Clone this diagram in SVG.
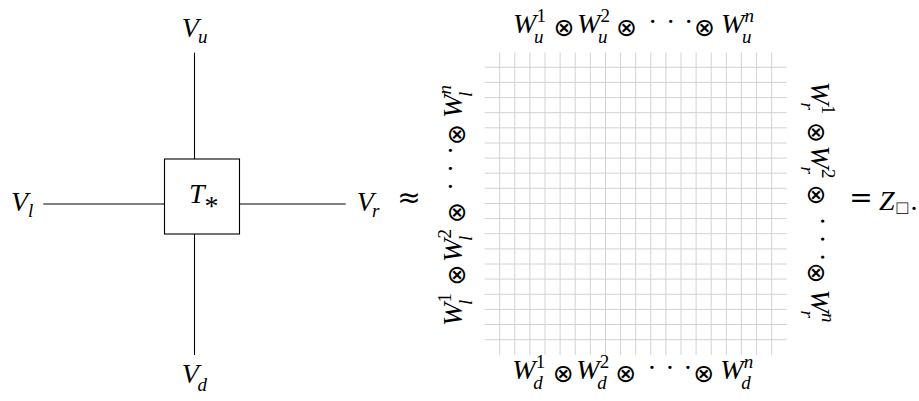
<svg xmlns="http://www.w3.org/2000/svg" width="919" height="401" viewBox="0 0 919 401">
  <style>
    .it { font-family: "Liberation Serif", serif; font-style: italic; font-size: 28px; fill: #000; }
    .sc { font-size: 19px; }
    .rm { font-style: normal; }
    .op { font-family: "DejaVu Sans", sans-serif; font-style: normal; text-anchor: middle; fill: #000; }
    .wire { stroke: #000; stroke-width: 1.1; fill: none; }
    .grid { stroke: #d2d2d2; stroke-width: 1; fill: none; }
  </style>
  <defs>
    <!-- shared operators of the tensor-product labels -->
    <g id="otimes-dots">
      <text class="op" x="51" y="3" font-size="25">⊗</text>
      <text class="op" x="113.5" y="3" font-size="25">⊗</text>
      <text class="it rm" x="135 153 171" y="-2">···</text>
      <text class="op" x="191.5" y="3" font-size="25">⊗</text>
    </g>
  </defs>

  <rect width="919" height="401" fill="#fff"/>

  <!-- connectors of the single tensor -->
  <g id="connectors">
    <line class="wire" x1="194.5" y1="52.7" x2="194.5" y2="159"/>
    <line class="wire" x1="194.5" y1="234" x2="194.5" y2="355"/>
    <line class="wire" x1="43.3" y1="204" x2="164.5" y2="204"/>
    <line class="wire" x1="239.5" y1="204" x2="345.7" y2="204"/>
  </g>

  <!-- central tensor T_* -->
  <g id="node-T">
    <rect class="wire" x="164.5" y="159" width="75" height="75" fill="#fff"/>
    <text class="it" x="189" y="203.3">T</text>
    <text class="it rm" x="204.5" y="215" font-size="19">*</text>
  </g>

  <g id="node-Vu">
    <text class="it" x="181.7" y="36.7">V<tspan class="sc" x="198" y="43">u</tspan></text>
  </g>
  <g id="node-Vl">
    <text class="it" x="11" y="211">V<tspan class="sc" x="28" y="217">l</tspan></text>
  </g>
  <g id="node-Vr">
    <text class="it" x="356.7" y="211">V<tspan class="sc" x="372" y="217">r</tspan></text>
  </g>
  <g id="node-Vd">
    <text class="it" x="181.7" y="383.3">V<tspan class="sc" x="197.5" y="390.5">d</tspan></text>
  </g>

  <!-- approximately -->
  <text class="op" x="409" y="207" font-size="28">≈</text>

  <!-- lattice of many tensors -->
  <g id="lattice">
    <path class="grid" d="
      M499.7 52.5V355 M514.8 52.5V355 M529.9 52.5V355 M545.0 52.5V355 M560.1 52.5V355
      M575.2 52.5V355 M590.3 52.5V355 M605.5 52.5V355 M620.6 52.5V355 M635.7 52.5V355
      M650.8 52.5V355 M665.9 52.5V355 M681.0 52.5V355 M696.1 52.5V355 M711.2 52.5V355
      M726.3 52.5V355 M741.4 52.5V355 M756.6 52.5V355 M771.7 52.5V355
      M484.7 67.3H786.7 M484.7 82.4H786.7 M484.7 97.6H786.7 M484.7 112.7H786.7 M484.7 127.8H786.7
      M484.7 143.0H786.7 M484.7 158.1H786.7 M484.7 173.2H786.7 M484.7 188.3H786.7 M484.7 203.5H786.7
      M484.7 218.6H786.7 M484.7 233.7H786.7 M484.7 248.9H786.7 M484.7 264.0H786.7 M484.7 279.1H786.7
      M484.7 294.3H786.7 M484.7 309.4H786.7 M484.7 324.5H786.7 M484.7 339.7H786.7"/>
  </g>

  <!-- boundary spaces of the lattice -->
  <g id="label-up" transform="translate(513,33)">
    <text class="it">
      <tspan x="0" y="0">W</tspan><tspan class="sc rm" x="23.5" y="-11">1</tspan><tspan class="sc" x="21" y="10">u</tspan>
      <tspan x="64" y="0">W</tspan><tspan class="sc rm" x="87.5" y="-11">2</tspan><tspan class="sc" x="85" y="10">u</tspan>
      <tspan x="208" y="0">W</tspan><tspan class="sc" x="231.5" y="-11">n</tspan><tspan class="sc" x="229" y="10">u</tspan>
    </text>
    <use href="#otimes-dots"/>
  </g>
  <g id="label-down" transform="translate(512.3,378.5)">
    <text class="it">
      <tspan x="0" y="0">W</tspan><tspan class="sc rm" x="23.5" y="-11">1</tspan><tspan class="sc" x="21" y="10">d</tspan>
      <tspan x="64" y="0">W</tspan><tspan class="sc rm" x="87.5" y="-11">2</tspan><tspan class="sc" x="85" y="10">d</tspan>
      <tspan x="208" y="0">W</tspan><tspan class="sc" x="231.5" y="-11">n</tspan><tspan class="sc" x="229" y="10">d</tspan>
    </text>
    <use href="#otimes-dots"/>
  </g>
  <g id="label-left" transform="translate(461.5,326) rotate(-90)">
    <text class="it">
      <tspan x="0" y="0">W</tspan><tspan class="sc rm" x="23.5" y="-11">1</tspan><tspan class="sc" x="21" y="10">l</tspan>
      <tspan x="64" y="0">W</tspan><tspan class="sc rm" x="87.5" y="-11">2</tspan><tspan class="sc" x="85" y="10">l</tspan>
      <tspan x="208" y="0">W</tspan><tspan class="sc" x="231.5" y="-11">n</tspan><tspan class="sc" x="229" y="10">l</tspan>
    </text>
    <use href="#otimes-dots"/>
  </g>
  <g id="label-right" transform="translate(811,81.5) rotate(90)">
    <text class="it">
      <tspan x="0" y="0">W</tspan><tspan class="sc rm" x="23.5" y="-11">1</tspan><tspan class="sc" x="21" y="10">r</tspan>
      <tspan x="64" y="0">W</tspan><tspan class="sc rm" x="87.5" y="-11">2</tspan><tspan class="sc" x="85" y="10">r</tspan>
      <tspan x="208" y="0">W</tspan><tspan class="sc" x="231.5" y="-11">n</tspan><tspan class="sc" x="229" y="10">r</tspan>
    </text>
    <use href="#otimes-dots"/>
  </g>

  <!-- partition function -->
  <g id="result">
    <text class="op" x="861" y="207" font-size="28">=</text>
    <text class="it" x="879" y="210">Z<tspan class="sc rm" x="896.5" y="214" font-size="21">□</tspan><tspan class="rm" x="910.5" y="210">.</tspan></text>
  </g>
</svg>
